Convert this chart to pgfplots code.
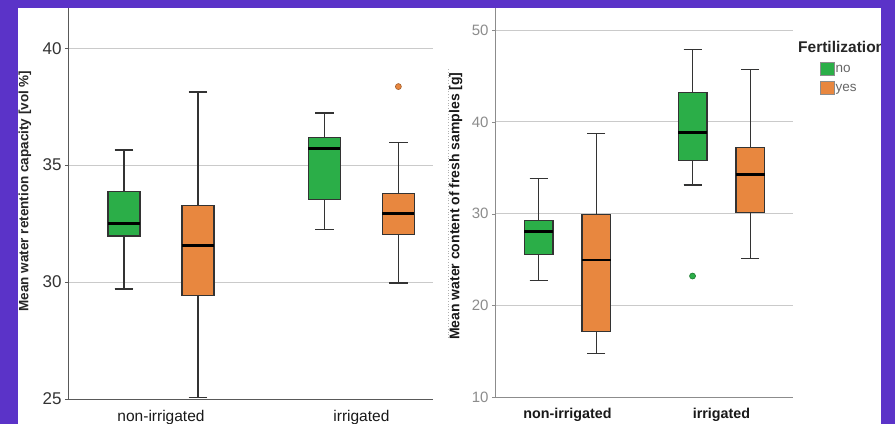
\documentclass[border=0pt]{standalone}
\usepackage{pgfplots}
\pgfplotsset{compat=1.18}
\usepgfplotslibrary{statistics}
\usepackage{fontspec}
\setmainfont{Liberation Sans}
\definecolor{bgpurple}{HTML}{5B33C8}
\definecolor{mygreen}{HTML}{2BAE48}
\definecolor{myorange}{HTML}{E8873F}
\definecolor{boxedge}{HTML}{333333}
\definecolor{gridc}{HTML}{CACACA}
\pgfplotsset{
 sqlegend/.style={legend image code/.code={\draw[##1] (0bp,-6.5bp) rectangle (14bp,6.5bp);}},
 mybox/.style={
   scale only axis, axis lines*=left, ymajorgrids,
   grid style={gridc, line width=1bp},
   xtick={0,1}, xticklabels={non-irrigated,irrigated},
   x tick style={draw=none},
   tick align=outside, major tick length=3bp,
   /pgf/number format/assume math mode=true,
   boxplot/draw direction=y,
   boxplot/every box/.style={draw=boxedge, line width=1.1bp},
   boxplot/every whisker/.style={draw=boxedge, line width=1.5bp},
   boxplot/every median/.style={draw=black, line width=2.8bp},
   xticklabel style={anchor=center, yshift=-15bp},
   clip=false,
 }
}
\begin{document}
\begin{tikzpicture}
\useasboundingbox (0bp,0bp) rectangle (895bp,424bp);
\fill[bgpurple] (0bp,0bp) rectangle (895bp,424bp);
\fill[white] (18bp,0bp) rectangle (881bp,416bp);
\draw[dotted, gray!60, line width=0.8bp] (448bp,86bp) -- (448bp,356bp);

% ---------- left panel ----------
\begin{axis}[mybox,
  at={(68bp,25bp)}, anchor=south west,
  width=365bp, height=391bp,
  xmin=-0.4641, xmax=1.3573, ymin=25, ymax=41.72,
  ytick={25,30,35,40},
  axis line style={draw=black!65, line width=1bp},
  y tick style={draw=black!65},
  yticklabel style={font=\fontsize{17bp}{19bp}\selectfont, text=black!80},
  xticklabel style={font=\fontsize{15.5bp}{18bp}\selectfont, text=black!90},
  every axis y label/.style={at={(rel axis cs:-0.118,0.532)}, rotate=90, anchor=center,
     font=\fontsize{13.5bp}{16bp}\selectfont\bfseries, text=black!85},
  ylabel={Mean water retention capacity [vol \%]},
]
\addplot[fill=mygreen, boxplot prepared={draw position=-0.1846,
  lower whisker=29.71, lower quartile=31.97, median=32.5,
  upper quartile=33.87, upper whisker=35.64,
  box extend=0.16, whisker extend=0.093}] coordinates {};
\addplot[fill=myorange, boxplot prepared={draw position=0.1846,
  lower whisker=25.07, lower quartile=29.41, median=31.57,
  upper quartile=33.28, upper whisker=38.12,
  box extend=0.16, whisker extend=0.093}] coordinates {};
\addplot[fill=mygreen, boxplot prepared={draw position=0.8154,
  lower whisker=32.25, lower quartile=33.54, median=35.7,
  upper quartile=36.19, upper whisker=37.22,
  box extend=0.16, whisker extend=0.093}] coordinates {};
\addplot[fill=myorange, mark=*, mark size=3bp,
  mark options={fill=myorange, draw=myorange!70!black, line width=0.6bp},
  boxplot prepared={draw position=1.1846,
  lower whisker=29.97, lower quartile=32.04, median=32.94,
  upper quartile=33.8, upper whisker=35.97,
  box extend=0.16, whisker extend=0.093}]
  table[row sep=\\, y index=0] {38.36\\};
\end{axis}

% ---------- right panel ----------
\begin{axis}[mybox,
  at={(495bp,26.7bp)}, anchor=south west,
  width=298bp, height=389.3bp,
  xmin=-0.4708, xmax=1.4643, ymin=10, ymax=52.41,
  ytick={10,20,30,40,50},
  axis line style={draw=black!45, line width=1bp},
  y tick style={draw=black!45},
  yticklabel style={font=\fontsize{15bp}{17bp}\selectfont, text=black!45},
  xticklabel style={font=\fontsize{14.3bp}{17bp}\selectfont\bfseries, text=black!90},
  every axis y label/.style={at={(rel axis cs:-0.132,0.491)}, rotate=90, anchor=center,
     font=\fontsize{14bp}{16bp}\selectfont\bfseries, text=black!90},
  ylabel={Mean water content of fresh samples [g]},
  legend style={at={(rel axis cs:1.0906,0.861)}, anchor=north west, draw=none, fill=none,
     font=\fontsize{13.5bp}{15bp}\selectfont, text=black!60, inner sep=0pt,
     row sep=5bp, nodes={inner sep=1bp, text depth=0pt}},
  legend cell align=left,
]
\addplot[forget plot, fill=mygreen, boxplot prepared={draw position=-0.188,
  lower whisker=22.7, lower quartile=25.58, median=28.04,
  upper quartile=29.24, upper whisker=33.86,
  box extend=0.188, whisker extend=0.117}] coordinates {};
\addplot[forget plot, fill=myorange, boxplot prepared={draw position=0.188,
  lower whisker=14.79, lower quartile=17.15, median=24.96,
  upper quartile=29.93, upper whisker=38.72,
  box extend=0.188, whisker extend=0.117}] coordinates {};
\addplot[forget plot, fill=mygreen, mark=*, mark size=3bp,
  mark options={fill=mygreen, draw=mygreen!70!black, line width=0.6bp},
  boxplot prepared={draw position=0.812,
  lower whisker=33.13, lower quartile=35.77, median=38.87,
  upper quartile=43.22, upper whisker=47.9,
  box extend=0.188, whisker extend=0.117}]
  table[row sep=\\, y index=0] {23.21\\};
\addplot[forget plot, fill=myorange, boxplot prepared={draw position=1.188,
  lower whisker=25.14, lower quartile=30.11, median=34.29,
  upper quartile=37.19, upper whisker=45.73,
  box extend=0.188, whisker extend=0.117}] coordinates {};
\addlegendimage{sqlegend, fill=mygreen, draw=black!45}
\addlegendentry{no}
\addlegendimage{sqlegend, fill=myorange, draw=black!45}
\addlegendentry{yes}
\end{axis}

\node[anchor=west, inner sep=0pt, font=\fontsize{15.5bp}{17bp}\selectfont\bfseries, text=black!85]
  at (798bp,377bp) {Fertilization};
\fill[bgpurple] (881bp,0bp) rectangle (895bp,424bp);
\end{tikzpicture}
\end{document}
